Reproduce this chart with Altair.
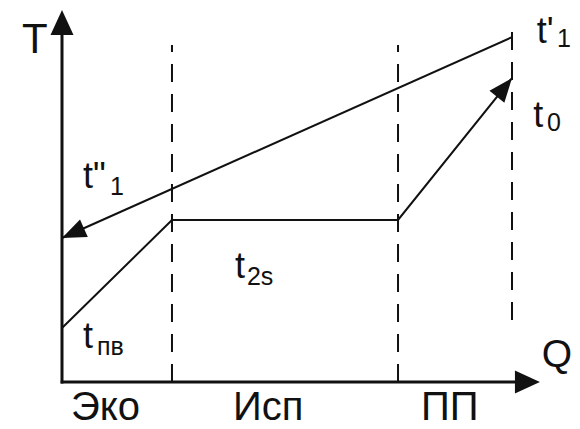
import altair as alt
import pandas as pd

# Section boundaries (dashed verticals), in Q / T units
bound_q = [2.444, 7.467, 10.0]
bound_t_lo = [0.0, 0.0, 1.67]
bound_t_hi = [9.06, 9.06, 9.46]

# Heating medium line t'1 -> t''1
hot_q = [10.0, 0.0]
hot_t = [9.27, 3.87]

# Working fluid line t_пв -> t_2s -> t_2s -> t_0
cold_q = [0.0, 2.444, 7.467, 10.0]
cold_t = [1.45, 4.355, 4.355, 8.17]

# Axis lines
axis_q = [0.0, 0.0, -0.03]
axis_t = [-0.04, 9.73, 0.0]
axis_q2 = [0.0, 10.4]

# Arrow heads: tips and directions (deg, clockwise from up)
axis_head_q = [0.0, 10.62]
axis_head_t = [10.0, 0.0]
axis_head_a = [0, 90]
line_head_q = [0.0, 10.0]
line_head_t = [3.87, 8.17]
line_head_a = [246, 39]

# Labels
main_text = ["t'", "t", 't"', "t", "t"]
main_q = [10.55, 10.47, 0.467, 3.844, 0.467]
main_t = [9.11, 6.85, 5.215, 2.80, 0.914]
sub_text = ["1", "0", "1", "2s", "пв"]
sub_q = [11.0, 10.78, 1.067, 4.11, 0.778]
sub_t = [9.0, 6.75, 5.03, 2.61, 0.726]
zone_text = ["Эко", "Исп", "ПП"]
zone_q = [0.20, 3.80, 7.98]
zone_t = [-1.02, -1.02, -1.02]
axname_text = ["T", "Q"]
axname_q = [-0.889, 10.66]
axname_t = [8.84, 0.40]
axname_size = [42, 39]

xs = alt.Scale(domain=[0, 10.622], nice=False, zero=False)
ys = alt.Scale(domain=[0, 10.0], nice=False, zero=False)
X = lambda f: alt.X(f, type="quantitative", scale=xs, axis=None)
Y = lambda f: alt.Y(f, type="quantitative", scale=ys, axis=None)

FONT = "Liberation Sans"
INK = "#111111"

bounds = pd.DataFrame({"q": bound_q, "t": bound_t_lo, "t2": bound_t_hi})
dashed = alt.Chart(bounds).mark_rule(strokeWidth=2, strokeDash=[18, 12], color=INK).encode(
    x=X("q"), y=Y("t"), y2="t2")

yaxis = alt.Chart(pd.DataFrame({"q": [axis_q[0]], "t": [axis_t[0]], "t2": [axis_t[1]]})).mark_rule(
    strokeWidth=3, color=INK).encode(x=X("q"), y=Y("t"), y2="t2")
xaxis = alt.Chart(pd.DataFrame({"q": [axis_q2[0] - 0.03], "q2": [axis_q2[1]], "t": [0.0]})).mark_rule(
    strokeWidth=3, color=INK).encode(x=X("q"), x2="q2", y=Y("t"))

hot = alt.Chart(pd.DataFrame({"q": hot_q, "t": hot_t, "o": range(len(hot_q))})).mark_line(
    strokeWidth=2, color=INK).encode(x=X("q"), y=Y("t"), order="o:Q")
cold = alt.Chart(pd.DataFrame({"q": cold_q, "t": cold_t, "o": range(len(cold_q))})).mark_line(
    strokeWidth=2, color=INK).encode(x=X("q"), y=Y("t"), order="o:Q")

axis_heads = alt.Chart(pd.DataFrame({"q": axis_head_q, "t": axis_head_t, "a": axis_head_a})).mark_point(
    shape="M0,0L-0.46,1L0.46,1Z", filled=True, size=2500, color=INK, opacity=1, strokeWidth=0).encode(
    x=X("q"), y=Y("t"), angle=alt.Angle("a:Q", scale=None))
line_heads = alt.Chart(pd.DataFrame({"q": line_head_q, "t": line_head_t, "a": line_head_a})).mark_point(
    shape="M0,0L-0.4,1L0.4,1Z", filled=True, size=2300, color=INK, opacity=1, strokeWidth=0).encode(
    x=X("q"), y=Y("t"), angle=alt.Angle("a:Q", scale=None))

def texts(txt, q, t, size):
    return alt.Chart(pd.DataFrame({"q": q, "t": t, "s": txt})).mark_text(
        align="left", baseline="alphabetic", font=FONT, fontSize=size, color=INK).encode(
        x=X("q"), y=Y("t"), text="s:N")

axnames = alt.Chart(pd.DataFrame({"q": axname_q, "t": axname_t, "s": axname_text, "z": axname_size})).mark_text(
    align="left", baseline="alphabetic", font=FONT, color=INK).encode(
    x=X("q"), y=Y("t"), text="s:N", size=alt.Size("z:Q", scale=None, legend=None))

chart = alt.layer(
    dashed, yaxis, xaxis, hot, cold, axis_heads, line_heads,
    texts(main_text, main_q, main_t, 36),
    texts(sub_text, sub_q, sub_t, 25),
    texts(zone_text, zone_q, zone_t, 40),
    axnames,
).properties(
    width=478, height=372,
    autosize=alt.AutoSizeParams(type="none"),
    padding={"left": 54, "top": 2, "right": 32, "bottom": 47},
    background="white",
).configure_view(stroke=None)

chart.save("out.html", embed_options={"renderer": "svg", "actions": False})
